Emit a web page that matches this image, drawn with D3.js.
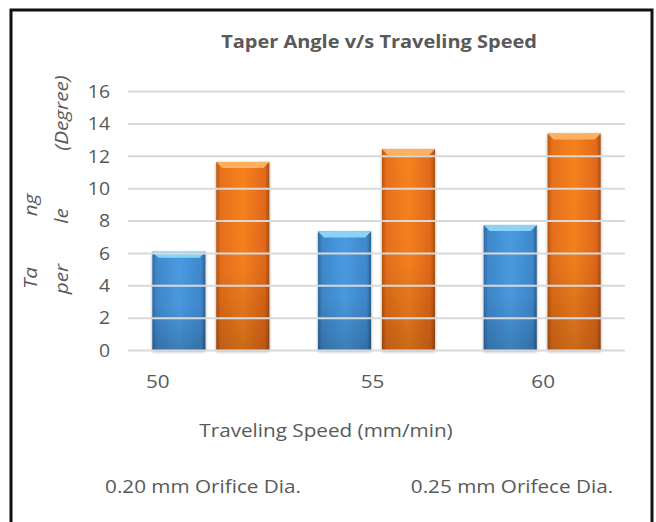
<!DOCTYPE html>
<html><head><meta charset="utf-8">
<script src="https://cdn.jsdelivr.net/npm/d3@7/dist/d3.min.js"></script>
<style>
html,body{margin:0;padding:0;background:#fff;}
svg{display:block;font-family:"Open Sans",sans-serif;}
</style></head>
<body>
<svg id="chart" width="656" height="522"></svg>
<script>
const categories = ["50", "55", "60"];
const seriesNames = ["0.20 mm Orifice Dia.", "0.25 mm Orifece Dia."];
const series020 = [6.1, 7.35, 7.75];
const series025 = [11.65, 12.45, 13.4];
const yTicks = [0, 2, 4, 6, 8, 10, 12, 14, 16];
const titleText = "Taper Angle v/s Traveling Speed";
const xTitle = "Traveling Speed (mm/min)";
const yTitleParts = [["Ta", 0, 278], ["ng", 0, 205], ["per", 1, 279], ["le", 1, 216], ["(Degree)", 1, 113]];

const svg = d3.select("#chart");
const textColor = "#595959";
const FS = 18, SX = 1.15;
const plot = {left: 128, right: 625, top: 91.5, bottom: 350.5};

const y = d3.scaleLinear().domain([0, 16]).range([plot.bottom, plot.top]);
const x0 = d3.scaleBand().domain(categories).range([plot.left, plot.right]).paddingInner(0.294).paddingOuter(0.147);
const x1 = d3.scaleBand().domain([0, 1]).range([0, x0.bandwidth()]).paddingInner(0.17);

const data = categories.map((c, i) => ({cat: c, vals: [series020[i], series025[i]]}));

// gradients
const defs = svg.append("defs");
function hGrad(id, stops) {
  const g = defs.append("linearGradient").attr("id", id).attr("x1", "0").attr("x2", "1").attr("y1", "0").attr("y2", "0");
  stops.forEach(s => g.append("stop").attr("offset", s[0]).attr("stop-color", s[1]));
}
function vGrad(id, stops) {
  const g = defs.append("linearGradient").attr("id", id).attr("x1", "0").attr("x2", "0").attr("y1", "0").attr("y2", "1");
  stops.forEach(s => g.append("stop").attr("offset", s[0]).attr("stop-color", s[1]).attr("stop-opacity", s[2]));
}
hGrad("gBlue", [[0, "#2f6aa3"], [0.08, "#3f88cc"], [0.5, "#4a9be2"], [0.92, "#3f88cc"], [1, "#2c5f92"]]);
hGrad("gOrange", [[0, "#b8560f"], [0.08, "#e8701a"], [0.5, "#f7821f"], [0.92, "#e2691a"], [1, "#a84e10"]]);
vGrad("gShade", [[0, "#000", 0], [0.55, "#000", 0.02], [1, "#000", 0.18]]);
const bevelColors = ["#8fd6fb", "#fdb463"];
const fills = ["url(#gBlue)", "url(#gOrange)"];
const filt = defs.append("filter").attr("id", "sh").attr("x", "-20%").attr("y", "-5%").attr("width", "140%").attr("height", "110%");
filt.append("feGaussianBlur").attr("in", "SourceAlpha").attr("stdDeviation", 1.8);
filt.append("feOffset").attr("dx", 0).attr("dy", 1).attr("result", "b");
filt.append("feComponentTransfer").append("feFuncA").attr("type", "linear").attr("slope", 0.4);
const fm = filt.append("feMerge"); fm.append("feMergeNode"); fm.append("feMergeNode").attr("in", "SourceGraphic");

// border
svg.append("rect").attr("x", 11).attr("y", 10).attr("width", 641).attr("height", 530)
  .attr("fill", "#fff").attr("stroke", "#111").attr("stroke-width", 3);

// bars
const groups = svg.append("g").selectAll("g").data(data).join("g")
  .attr("transform", d => `translate(${x0(d.cat)},0)`);
groups.each(function(d) {
  const g = d3.select(this);
  d.vals.forEach((v, si) => {
    const bx = x1(si), bw = x1.bandwidth(), top = y(v), h = y(0) - y(v);
    const bg = g.append("g").attr("filter", "url(#sh)");
    bg.append("rect").attr("x", bx).attr("y", top).attr("width", bw).attr("height", h).attr("fill", fills[si]);
    bg.append("rect").attr("x", bx).attr("y", top).attr("width", bw).attr("height", h).attr("fill", "url(#gShade)");
    const bv = 6;
    bg.append("path").attr("d", `M${bx},${top}L${bx + bw},${top}L${bx + bw - bv},${top + bv}L${bx + bv},${top + bv}Z`)
      .attr("fill", bevelColors[si]).attr("opacity", 0.95);
  });
});

// gridlines (drawn over bars as in the reference)
svg.append("g").selectAll("line").data(yTicks).join("line")
  .attr("x1", plot.left).attr("x2", plot.right)
  .attr("y1", d => y(d)).attr("y2", d => y(d))
  .attr("stroke", "#d9d9d9").attr("stroke-width", 2);

// y tick labels
svg.append("g").selectAll("text").data(yTicks).join("text")
  .attr("transform", d => `translate(110,${y(d)}) scale(${1.08},1)`).attr("dy", "0.35em")
  .attr("text-anchor", "end").attr("font-size", FS).attr("fill", textColor).text(d => d);

// x tick labels (first label sits left of its group in the reference)
const xLabelShift = [-53, -4, 1];
svg.append("g").selectAll("text").data(categories).join("text")
  .attr("transform", (d, i) => `translate(${x0(d) + x0.bandwidth() / 2 + xLabelShift[i]},388) scale(${SX},1)`)
  .attr("text-anchor", "middle").attr("font-size", FS).attr("fill", textColor).text(d => d);

// title
svg.append("text").attr("transform", `translate(379,48) scale(1.11,1)`).attr("text-anchor", "middle")
  .attr("font-size", FS).attr("font-weight", "bold").attr("fill", textColor).text(titleText);

// x title
svg.append("text").attr("transform", `translate(326,437) scale(${SX},1)`).attr("text-anchor", "middle")
  .attr("font-size", FS).attr("fill", textColor).text(xTitle);

// y title (wrapped, rotated)
const colX = [37, 68];
svg.append("g").selectAll("text").data(yTitleParts).join("text")
  .attr("transform", d => `translate(${colX[d[1]]},${d[2]}) rotate(-90) scale(${SX},1)`)
  .attr("text-anchor", "middle").attr("font-size", FS).attr("font-style", "italic")
  .attr("fill", textColor).text(d => d[0]);

// legend
const legX = [203, 512];
svg.append("g").selectAll("text").data(seriesNames).join("text")
  .attr("transform", (d, i) => `translate(${legX[i]},493) scale(${SX},1)`).attr("text-anchor", "middle")
  .attr("font-size", FS).attr("fill", textColor).text(d => d);
</script>
</body></html>
